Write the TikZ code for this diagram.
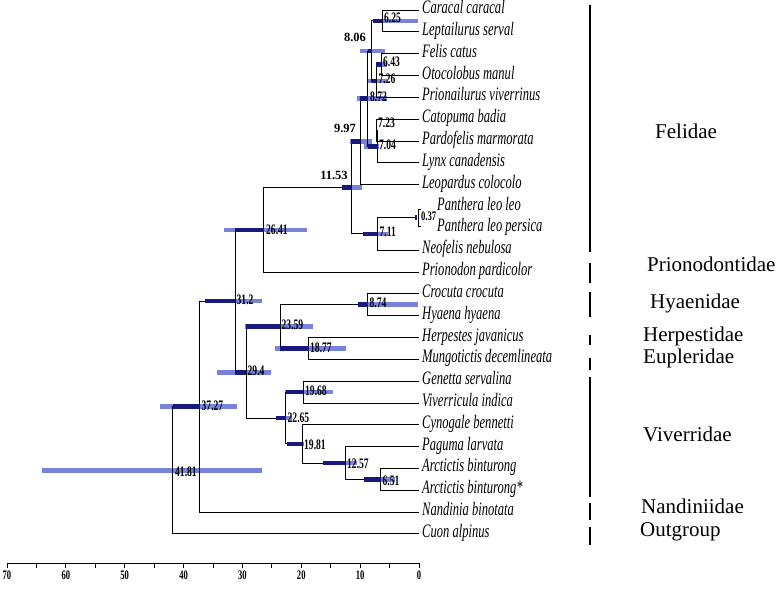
\documentclass[tikz,border=0pt]{standalone}
\usepackage{fontspec}
\setmainfont{Liberation Serif}
\newfontfamily\cond[FakeStretch=0.66]{Liberation Serif}
\definecolor{hpdl}{RGB}{120,130,218}
\definecolor{hpdd}{RGB}{25,25,125}
\tikzset{
 br/.style={draw=black,line width=0.9pt},
 hpd/.style={draw=hpdl,line width=4.5pt},
 hpdk/.style={draw=hpdd,line width=4.5pt},
 taxon/.style={anchor=west,inner sep=0pt,text height=0.7em,text depth=0pt,font=\cond\itshape\fontsize{19}{19}\selectfont},
 age/.style={anchor=west,inner sep=0pt,text height=0.7em,text depth=0pt,font=\cond\bfseries\fontsize{14.5}{14.5}\selectfont},
 bigage/.style={inner sep=0pt,text height=0.7em,text depth=0pt,font=\bfseries\fontsize{12.5}{12.5}\selectfont},
 fam/.style={anchor=west,inner sep=0pt,text height=0.7em,text depth=0pt,font=\fontsize{21}{21}\selectfont},
 sep/.style={draw=black,line width=1.1pt},
 axlab/.style={inner sep=0pt,text height=0.7em,text depth=0pt,font=\cond\bfseries\fontsize{13}{13}\selectfont},
 axline/.style={draw=black,line width=0.9pt},
}
\begin{document}
\begin{tikzpicture}[x=1pt,y=-1pt]
\fill[white] (0,0) rectangle (781,592);
\useasboundingbox (0,0) rectangle (781,592);

% tip ends
\coordinate (e1) at (419,10);
\coordinate (e2) at (419,31.8);
\coordinate (e3) at (419,53.7);
\coordinate (e4) at (419,75.5);
\coordinate (e5) at (419,97.3);
\coordinate (e6) at (419,119.2);
\coordinate (e7) at (419,141.0);
\coordinate (e8) at (419,162.8);
\coordinate (e9) at (419,184.6);
\coordinate (e12) at (419,250.1);
\coordinate (e13) at (419,272.0);
\coordinate (e14) at (419,293.8);
\coordinate (e15) at (419,315.6);
\coordinate (e16) at (419,337.5);
\coordinate (e17) at (419,359.3);
\coordinate (e18) at (419,381.1);
\coordinate (e19) at (419,403.0);
\coordinate (e20) at (419,424.8);
\coordinate (e21) at (419,446.6);
\coordinate (e22) at (419,468.4);
\coordinate (e23) at (419,490.3);
\coordinate (e24) at (419,512.1);
\coordinate (e25) at (419,533.9);

% internal nodes
\coordinate (n625) at (382.2,20.9);
\coordinate (n643) at (381.2,64.6);
\coordinate (n726) at (376.3,81.0);
\coordinate (n806) at (371.6,51.0);
\coordinate (n723) at (376.4,130.1);
\coordinate (n704) at (377.6,146.5);
\coordinate (n872) at (367.7,98.7);
\coordinate (n997) at (360.3,141.7);
\coordinate (n037) at (416.8,217.4);
\coordinate (n711) at (377.2,233.8);
\coordinate (n1153) at (351.1,187.7);
\coordinate (n2641) at (263.6,229.9);
\coordinate (n874) at (367.6,304.7);
\coordinate (n1877) at (308.5,348.4);
\coordinate (n2359) at (280.2,326.6);
\coordinate (n1968) at (303.2,392.1);
\coordinate (n651) at (380.7,479.4);
\coordinate (n1257) at (345.0,463.0);
\coordinate (n1981) at (302.4,443.9);
\coordinate (n2265) at (285.7,418.0);
\coordinate (n294) at (246.0,372.3);
\coordinate (n312) at (235.4,301.1);
\coordinate (n3727) at (199.6,406.6);
\coordinate (n4181) at (172.9,470.3);

% HPD bars (light)
\draw[hpd] (373,20.9) -- (418,20.9);
\draw[hpd] (360,51.0) -- (385,51.0);
\draw[hpd] (376,64.6) -- (387,64.6);
\draw[hpd] (367,81.0) -- (387,81.0);
\draw[hpd] (357,98.7) -- (387,98.7);
\draw[hpd] (350,141.7) -- (372,141.7);
\draw[hpd] (364,146.5) -- (379,146.5);
\draw[hpd] (342,187.7) -- (362,187.7);
\draw[hpd] (363,233.8) -- (388,233.8);
\draw[hpd] (224,229.9) -- (307,229.9);
\draw[hpd] (205,301.1) -- (262,301.1);
\draw[hpd] (358,304.7) -- (418,304.7);
\draw[hpd] (245,326.6) -- (313,326.6);
\draw[hpd] (275,348.4) -- (346,348.4);
\draw[hpd] (217,372.3) -- (271,372.3);
\draw[hpd] (285,392.1) -- (333,392.1);
\draw[hpd] (276,418.0) -- (292,418.0);
\draw[hpd] (287,443.9) -- (304,443.9);
\draw[hpd] (323,463.0) -- (357,463.0);
\draw[hpd] (364,479.4) -- (395,479.4);
\draw[hpd] (160,406.6) -- (237,406.6);
\draw[hpd] (42,470.3) -- (262,470.3);

% branches
\draw[br] (n625) |- (e1);  \draw[br] (n625) |- (e2);
\draw[br] (n643) |- (e3);  \draw[br] (n643) |- (e4);
\draw[br] (n726) |- (n643); \draw[br] (n726) |- (e5);
\draw[br] (n806) |- (n625); \draw[br] (n806) |- (n726);
\draw[br] (n723) |- (e6);  \draw[br] (n723) |- (e7);
\draw[br] (n704) |- (n723); \draw[br] (n704) |- (e8);
\draw[br] (n872) |- (n806); \draw[br] (n872) |- (n704);
\draw[br] (n997) |- (n872); \draw[br] (n997) |- (e9);
\draw[br] (n711) |- (n037); \draw[br] (n711) |- (e12);
\draw[br] (n1153) |- (n997); \draw[br] (n1153) |- (n711);
\draw[br] (n2641) |- (n1153); \draw[br] (n2641) |- (e13);
\draw[br] (n874) |- (e14); \draw[br] (n874) |- (e15);
\draw[br] (n1877) |- (e16); \draw[br] (n1877) |- (e17);
\draw[br] (n2359) |- (n874); \draw[br] (n2359) |- (n1877);
\draw[br] (n1968) |- (e18); \draw[br] (n1968) |- (e19);
\draw[br] (n651) |- (e22); \draw[br] (n651) |- (e23);
\draw[br] (n1257) |- (e21); \draw[br] (n1257) |- (n651);
\draw[br] (n1981) |- (e20); \draw[br] (n1981) |- (n1257);
\draw[br] (n2265) |- (n1968); \draw[br] (n2265) |- (n1981);
\draw[br] (n294) |- (n2359); \draw[br] (n294) |- (n2265);
\draw[br] (n312) |- (n2641); \draw[br] (n312) |- (n294);
\draw[br] (n3727) |- (n312); \draw[br] (n3727) |- (e24);
\draw[br] (n4181) |- (n3727); \draw[br] (n4181) |- (e25);

% dark parts of HPD bars (over the stem)
\draw[hpdk] (373,20.9) -- (n625);
\draw[hpdk] (367.7,51.0) -- (n806);
\draw[hpdk] (376.3,64.6) -- (n643);
\draw[hpdk] (371.6,81.0) -- (n726);
\draw[hpdk] (360.3,98.7) -- (n872);
\draw[hpdk] (351.1,141.7) -- (n997);
\draw[hpdk] (367.7,146.5) -- (n704);
\draw[hpdk] (342,187.7) -- (n1153);
\draw[hpdk] (363,233.8) -- (n711);
\draw[hpdk] (414.5,217.4) -- (n037);
\draw[hpdk] (235.4,229.9) -- (n2641);
\draw[hpdk] (205,301.1) -- (n312);
\draw[hpdk] (358,304.7) -- (n874);
\draw[hpdk] (246,326.6) -- (n2359);
\draw[hpdk] (280.2,348.4) -- (n1877);
\draw[hpdk] (235.4,372.3) -- (n294);
\draw[hpdk] (285.7,392.1) -- (n1968);
\draw[hpdk] (276,418.0) -- (n2265);
\draw[hpdk] (287,443.9) -- (n1981);
\draw[hpdk] (323,463.0) -- (n1257);
\draw[hpdk] (364,479.4) -- (n651);
\draw[hpdk] (172.9,406.6) -- (n3727);

% Panthera bracket
\draw[br,line width=0.7pt] (421,209.5) -- (418.6,209.5) -- (418.6,226.5) -- (421,226.5);

% node age labels
\node[age] (l625) at (384,18.5) {6.25};
\node[age] (l643) at (383,62.5) {6.43};
\node[age] (l726) at (378.5,80) {7.26};
\node[age] (l872) at (370,98) {8.72};
\node[age] (l723) at (378,124) {7.23};
\node[age] (l704) at (379,145.5) {7.04};
\node[age] (l711) at (379.5,233) {7.11};
\node[age,font=\cond\bfseries\fontsize{13}{13}\selectfont] (l037) at (421,217) {0.37};
\node[age] (l2641) at (266,230.5) {26.41};
\node[age] (l312) at (236.5,301) {31.2};
\node[age] (l874) at (369.5,304) {8.74};
\node[age] (l2359) at (281.5,326) {23.59};
\node[age] (l1877) at (310,348.5) {18.77};
\node[age] (l294) at (247.5,372) {29.4};
\node[age] (l1968) at (305,392) {19.68};
\node[age] (l2265) at (287.5,419) {22.65};
\node[age] (l1981) at (304,445.5) {19.81};
\node[age] (l1257) at (347,465) {12.57};
\node[age] (l651) at (382.5,482) {6.51};
\node[age] (l3727) at (201.5,407) {37.27};
\node[age] (l4181) at (175,473) {41.81};
\node[bigage] (b806) at (355,38) {8.06};
\node[bigage] (b997) at (345,129) {9.97};
\node[bigage] (b1153) at (334,176) {11.53};

% taxa
\node[taxon] (t1) at ([xshift=3pt]e1) {Caracal caracal};
\node[taxon] (t2) at ([xshift=3pt]e2) {Leptailurus serval};
\node[taxon] (t3) at ([xshift=3pt]e3) {Felis catus};
\node[taxon] (t4) at ([xshift=3pt]e4) {Otocolobus manul};
\node[taxon] (t5) at ([xshift=3pt]e5) {Prionailurus viverrinus};
\node[taxon] (t6) at ([xshift=3pt]e6) {Catopuma badia};
\node[taxon] (t7) at ([xshift=3pt]e7) {Pardofelis marmorata};
\node[taxon] (t8) at ([xshift=3pt]e8) {Lynx canadensis};
\node[taxon] (t9) at ([xshift=3pt]e9) {Leopardus colocolo};
\node[taxon] (t10) at (437,206.5) {Panthera leo leo};
\node[taxon] (t11) at (437,228.3) {Panthera leo persica};
\node[taxon] (t12) at ([xshift=3pt]e12) {Neofelis nebulosa};
\node[taxon] (t13) at ([xshift=3pt]e13) {Prionodon pardicolor};
\node[taxon] (t14) at ([xshift=3pt]e14) {Crocuta crocuta};
\node[taxon] (t15) at ([xshift=3pt]e15) {Hyaena hyaena};
\node[taxon] (t16) at ([xshift=3pt]e16) {Herpestes javanicus};
\node[taxon] (t17) at ([xshift=3pt]e17) {Mungotictis decemlineata};
\node[taxon] (t18) at ([xshift=3pt]e18) {Genetta servalina};
\node[taxon] (t19) at ([xshift=3pt]e19) {Viverricula indica};
\node[taxon] (t20) at ([xshift=3pt]e20) {Cynogale bennetti};
\node[taxon] (t21) at ([xshift=3pt]e21) {Paguma larvata};
\node[taxon] (t22) at ([xshift=3pt]e22) {Arctictis binturong};
\node[taxon] (t23) at ([xshift=3pt]e23) {Arctictis binturong*};
\node[taxon] (t24) at ([xshift=3pt]e24) {Nandinia binotata};
\node[taxon] (t25) at ([xshift=3pt]e25) {Cuon alpinus};

% family separators
\draw[sep] (590,5) -- (590,252);
\draw[sep] (590,263) -- (590,283);
\draw[sep] (590,292) -- (590,317);
\draw[sep] (590,335) -- (590,345);
\draw[sep] (590,358) -- (590,370);
\draw[sep] (590,377) -- (590,497);
\draw[sep] (590,503) -- (590,520);
\draw[sep] (590,527) -- (590,545);

% family labels
\node[fam] (f1) at (655,135) {Felidae};
\node[fam] (f2) at (647,268) {Prionodontidae};
\node[fam] (f3) at (650,305) {Hyaenidae};
\node[fam] (f4) at (643,338) {Herpestidae};
\node[fam] (f5) at (643,360) {Eupleridae};
\node[fam] (f6) at (643,438) {Viverridae};
\node[fam] (f7) at (641,510) {Nandiniidae};
\node[fam] (f8) at (640,533) {Outgroup};

% time axis
\coordinate (a70) at (7,563);
\coordinate (a0) at (419,563);
\draw[axline] (a70) -- (a0);
\foreach \k in {0,...,14}
  \draw[axline] ({419-29.43*\k},563) -- ++(0,5);
\foreach \v in {0,10,...,70}
  \node[axlab] at ({419-5.886*\v},576) {\v};
\end{tikzpicture}
\end{document}
